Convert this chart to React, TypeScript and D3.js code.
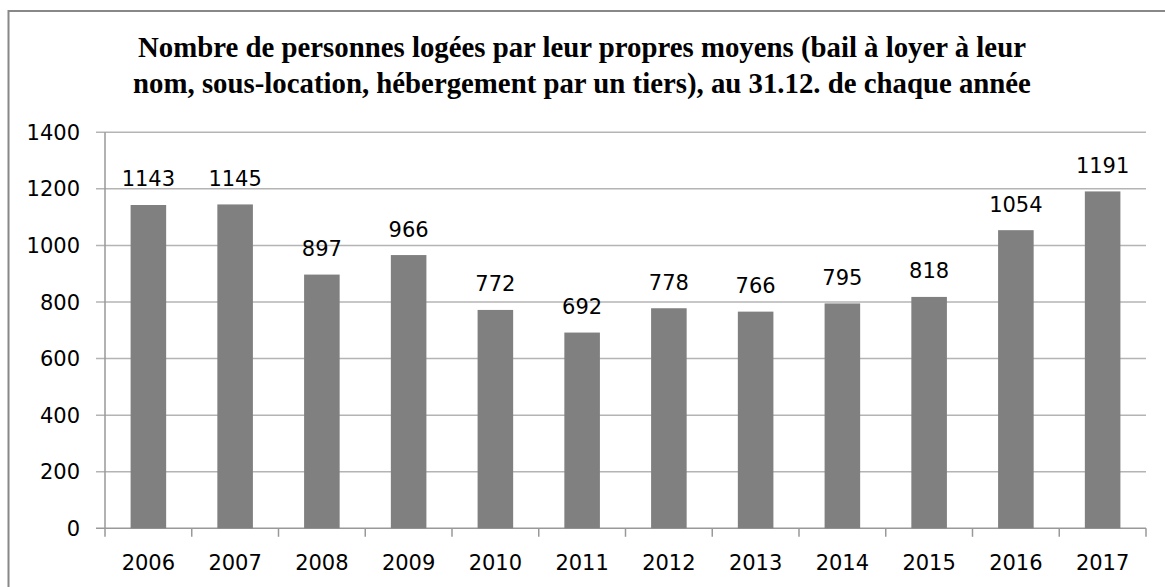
import * as d3 from "d3";

const YEARS = ["2006","2007","2008","2009","2010","2011","2012","2013","2014","2015","2016","2017"];
const VALUES = [1143,1145,897,966,772,692,778,766,795,818,1054,1191];
const Y_TICKS = [0,200,400,600,800,1000,1200,1400];
const TITLE_LINES = [
  "Nombre de personnes logées par leur propres moyens (bail à loyer à leur",
  "nom, sous-location, hébergement par un tiers), au 31.12. de chaque année",
];

const W = 1165, H = 587;
const plot = { l: 105, r: 1146, t: 132.3, b: 528.3 };
const LABEL_FONT = "'DejaVu Sans', sans-serif";

export default function App() {
  const x = d3.scaleBand().domain(YEARS).range([plot.l, plot.r]).paddingInner(0.59).paddingOuter(0.295);
  const y = d3.scaleLinear().domain([0, 1400]).range([plot.b, plot.t]);
  const step = x.step();
  const bw = x.bandwidth();

  return (
    <svg width={W} height={H} style={{ position: "absolute", left: 0, top: 0, background: "white" }}>
      {/* outer frame */}
      <rect x={8.5} y={11} width={W + 20} height={H + 20} fill="white" stroke="#888" strokeWidth={2} />

      {TITLE_LINES.map((t, i) => (
        <text key={i} x={582} y={57 + i * 36} textAnchor="middle" fontFamily="'Liberation Serif', 'Times New Roman', serif"
          fontWeight="bold" fontSize={28.8} fill="#000">{t}</text>
      ))}

      {/* gridlines + y ticks */}
      {Y_TICKS.map(t => (
        <g key={t}>
          <line x1={96} x2={plot.r} y1={y(t)} y2={y(t)} stroke={t === 0 ? "#999" : "#b4b4b4"} strokeWidth={1.5} />
          <text x={80} y={y(t) + 7.5} textAnchor="end" fontFamily={LABEL_FONT} fontSize={21} fill="#000">{t}</text>
        </g>
      ))}

      {/* y axis */}
      <line x1={plot.l} x2={plot.l} y1={plot.t} y2={plot.b} stroke="#999" strokeWidth={1.5} />

      {/* x category ticks */}
      {d3.range(YEARS.length + 1).map(i => (
        <line key={i} x1={plot.l + i * step} x2={plot.l + i * step} y1={plot.b} y2={plot.b + 8.5} stroke="#999" strokeWidth={1.5} />
      ))}

      {/* bars */}
      {YEARS.map((yr, i) => (
        <g key={yr}>
          <rect x={x(yr)!} y={y(VALUES[i])} width={bw} height={plot.b - y(VALUES[i])} fill="#808080" />
          <text x={x(yr)! + bw / 2} y={y(VALUES[i]) - 18.5} textAnchor="middle" fontFamily={LABEL_FONT} fontSize={21} fill="#000">{VALUES[i]}</text>
          <text x={x(yr)! + bw / 2} y={570} textAnchor="middle" fontFamily={LABEL_FONT} fontSize={21} fill="#000">{yr}</text>
        </g>
      ))}
    </svg>
  );
}
